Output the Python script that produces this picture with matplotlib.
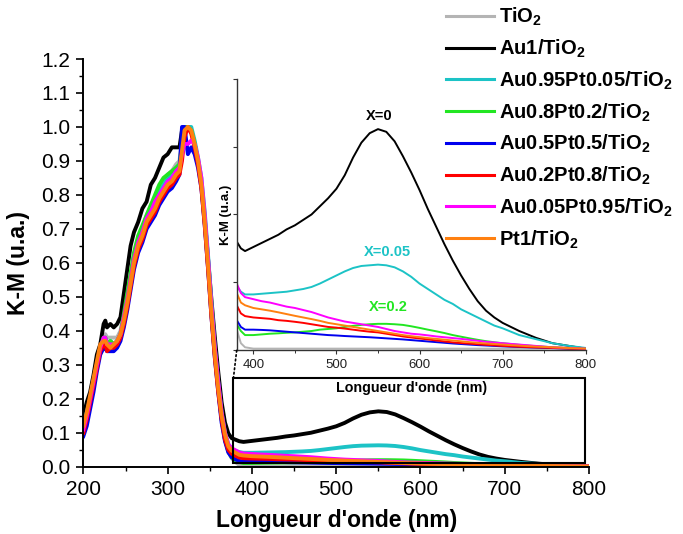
import matplotlib
matplotlib.use("Agg")
import matplotlib.pyplot as plt
from matplotlib.patches import Rectangle, ConnectionPatch
from matplotlib.ticker import MultipleLocator

plt.rcParams['font.family'] = 'Liberation Sans'
plt.rcParams['mathtext.fontset'] = 'custom'
plt.rcParams['mathtext.rm'] = 'Liberation Sans:bold'
plt.rcParams['mathtext.bf'] = 'Liberation Sans:bold'

# wavelength grids (nm): UV part and visible part
wl_uv = [200, 204, 208, 212, 216, 220, 224, 226, 228, 232, 236, 240, 244, 248, 252,
         256, 260, 265, 270, 275, 280, 285, 290, 295, 300, 305, 310, 314, 317, 320,
         324, 328, 332, 336, 340, 344, 348, 352, 356, 360, 364, 368, 372, 376]
wl_vis = [380, 385, 390, 400, 410, 420, 430, 440, 450, 460, 470, 480, 490, 500,
          510, 520, 530, 540, 550, 560, 570, 580, 590, 600, 610, 620, 630, 640, 650,
          660, 670, 680, 690, 700, 720, 740, 760, 780, 800]

tio2_uv = [.13, .17, .21, .26, .31, .35, .38, .39, .38, .38, .38, .38, .40, .45, .50,
           .56, .62, .67, .70, .74, .77, .79, .82, .84, .86, .87, .89, .90, .96, 1.0,
           1.0, .99, .95, .90, .83, .72, .59, .45, .33, .23, .14, .08, .045, .025]
tio2_vis = [.015, .005, .002, .001, .001, .001, .001, .001, .001, .001, .001, .001, .001, .001,
            .001, .001, .001, .001, .001, .001, .001, .001, .001, .001, .001, .001, .001, .001, .001,
            .001, .001, .001, .001, .001, .001, .001, .001, .001, .001]

au1_uv = [.15, .19, .22, .27, .33, .36, .42, .43, .41, .42, .41, .42, .44, .51, .58,
          .65, .69, .72, .76, .78, .83, .85, .88, .91, .92, .94, .94, .94, .99, 1.0,
          1.0, .99, .95, .90, .83, .73, .61, .49, .38, .28, .19, .13, .098, .084]
au1_vis = [.080, .075, .073, .076, .079, .082, .085, .089, .092, .096, .100, .106, .112, .119,
           .129, .142, .153, .160, .163, .161, .154, .143, .131, .118, .104, .091, .078, .066, .055,
           .045, .036, .029, .024, .020, .014, .009, .005, .003, .001]

au95_uv = [.12, .16, .20, .25, .30, .35, .37, .38, .36, .37, .36, .37, .39, .44, .49,
           .55, .61, .66, .69, .73, .76, .78, .81, .83, .85, .86, .88, .89, .93, .98,
           1.0, 1.0, .96, .91, .85, .75, .62, .48, .35, .25, .16, .10, .066, .052]
au95_vis = [.047, .043, .041, .041, .0415, .042, .0425, .043, .044, .045, .0465, .049, .052, .055,
            .058, .0605, .062, .0625, .063, .0625, .061, .058, .054, .049, .045, .041, .037, .034, .030,
            .027, .024, .021, .018, .016, .011, .008, .005, .003, .0015]

au80_uv = [.11, .15, .20, .25, .30, .35, .38, .38, .36, .37, .36, .37, .39, .45, .51,
           .57, .63, .68, .71, .74, .77, .80, .83, .85, .86, .87, .88, .89, .95, 1.0,
           1.0, .99, .95, .90, .83, .72, .59, .45, .33, .23, .14, .08, .045, .027]
au80_vis = [.019, .014, .011, .011, .0115, .012, .0123, .0127, .013, .0135, .014, .015, .0155, .016,
            .017, .0178, .0185, .019, .0193, .0193, .019, .0185, .0175, .0163, .015, .0138, .0125, .011, .0098,
            .0086, .0075, .0065, .0057, .005, .0038, .0028, .002, .0014, .001]

au50_uv = [.09, .12, .17, .22, .28, .33, .35, .35, .34, .34, .34, .35, .37, .41, .46,
           .52, .58, .63, .66, .70, .72, .74, .77, .79, .81, .82, .84, .86, 1.0, 1.0,
           .92, .94, .92, .88, .82, .71, .58, .44, .32, .22, .13, .075, .042, .028]
au50_vis = [.022, .017, .015, .015, .0148, .0145, .014, .0135, .013, .0125, .012, .0115, .011, .0107,
            .0103, .010, .0097, .0094, .009, .0086, .0082, .0078, .0073, .0068, .0063, .0058, .0053, .0048, .0044,
            .004, .0036, .0033, .003, .0027, .0022, .0018, .0014, .001, .0007]

au20_uv = [.10, .14, .19, .24, .29, .34, .36, .36, .34, .35, .35, .36, .38, .42, .47,
           .53, .59, .64, .67, .71, .73, .75, .78, .80, .82, .83, .85, .86, .90, .97,
           1.0, .98, .94, .89, .82, .71, .58, .44, .32, .22, .14, .08, .05, .038]
au20_vis = [.033, .027, .025, .024, .0235, .023, .022, .0215, .0208, .020, .019, .018, .017, .0165,
            .0158, .015, .0142, .0135, .013, .012, .011, .010, .0092, .0085, .0078, .007, .0063, .0056, .0051,
            .0047, .0042, .0038, .0034, .003, .0024, .0019, .0015, .001, .0007]

au05_uv = [.11, .15, .20, .25, .30, .35, .38, .38, .36, .36, .36, .37, .39, .44, .49,
           .55, .61, .66, .69, .73, .75, .78, .80, .82, .84, .85, .87, .88, .92, .95,
           .95, .96, .95, .91, .85, .74, .61, .47, .35, .25, .16, .10, .066, .054]
au05_vis = [.049, .042, .039, .0375, .036, .035, .0335, .032, .031, .0295, .028, .026, .024, .0225,
            .021, .020, .019, .018, .017, .0155, .014, .013, .012, .0115, .0108, .010, .0094, .0088, .0082,
            .0075, .0068, .006, .0055, .005, .004, .003, .002, .0015, .001]

pt1_uv = [.12, .16, .21, .26, .31, .36, .37, .37, .36, .35, .36, .37, .39, .43, .48,
          .54, .60, .65, .68, .72, .74, .76, .79, .81, .83, .84, .86, .87, .93, .99,
          1.0, .99, .95, .90, .83, .72, .59, .45, .33, .23, .15, .095, .06, .047]
pt1_vis = [.042, .035, .033, .031, .030, .029, .0278, .0265, .0252, .024, .0228, .0215, .020, .019,
           .018, .017, .016, .015, .014, .013, .012, .011, .0102, .0095, .0088, .0082, .0076, .007, .0064,
           .0058, .0053, .0048, .0044, .004, .0032, .0025, .002, .0014, .001]

wl = wl_uv + wl_vis
series = [tio2_uv + tio2_vis, au1_uv + au1_vis, au95_uv + au95_vis, au80_uv + au80_vis,
          au50_uv + au50_vis, au20_uv + au20_vis, au05_uv + au05_vis, pt1_uv + pt1_vis]
labels = ['TiO$_2$', 'Au1/TiO$_2$', 'Au0.95Pt0.05/TiO$_2$', 'Au0.8Pt0.2/TiO$_2$',
          'Au0.5Pt0.5/TiO$_2$', 'Au0.2Pt0.8/TiO$_2$', 'Au0.05Pt0.95/TiO$_2$', 'Pt1/TiO$_2$']
colors = ['#b4b4b4', '#000000', '#1cc3c6', '#22e622', '#0000ee', '#ff0000', '#ff00ff', '#ff8010']

fig = plt.figure(figsize=(6.83, 5.34), dpi=100)
ax = fig.add_axes([0.1221, 0.126, 0.7403, 0.7635])

for y, lab, c in zip(series, labels, colors):
    ax.plot(wl, y, color=c, lw=2.8, label=lab)

ax.set_xlim(200, 800)
ax.set_ylim(0, 1.2)
ax.xaxis.set_major_locator(MultipleLocator(100))
ax.xaxis.set_minor_locator(MultipleLocator(50))
ax.yaxis.set_major_locator(MultipleLocator(0.1))
ax.yaxis.set_minor_locator(MultipleLocator(0.05))
ax.yaxis.set_major_formatter(matplotlib.ticker.FormatStrFormatter('%.1f'))
for s in ['top', 'right']:
    ax.spines[s].set_visible(False)
for s in ['left', 'bottom']:
    ax.spines[s].set_linewidth(1.4)
ax.tick_params(which='major', direction='out', length=5, width=1.2, labelsize=15, pad=4.5)
ax.tick_params(which='minor', direction='out', length=3, width=1.0)
ax.set_xlabel("Longueur d'onde (nm)", fontsize=16.5, fontweight='bold', labelpad=7)
ax.set_ylabel("K-M (u.a.)", fontsize=16.5, fontweight='bold', labelpad=8)

# zoom box
ax.add_patch(Rectangle((378, 0.01), 417, 0.25, fill=False, ec='black', lw=1.5, zorder=5))

# inset
ins = fig.add_axes([0.3466, 0.3446, 0.511, 0.5075])
ins.set_facecolor('none')
for y, c in zip(series, colors):
    ins.plot(wl, y, color=c, lw=1.4)
ins.set_xlim(380, 800)
ins.set_ylim(0, 0.2)
ins.xaxis.set_major_locator(MultipleLocator(100))
ins.xaxis.set_minor_locator(MultipleLocator(50))
ins.yaxis.set_major_locator(MultipleLocator(0.05))
ins.set_yticklabels([])
for s in ['top', 'right']:
    ins.spines[s].set_visible(False)
for s in ['left', 'bottom']:
    ins.spines[s].set_color('#333333')
    ins.spines[s].set_linewidth(1.0)
ins.tick_params(which='major', direction='out', length=3, width=0.8, labelsize=9.5,
                colors='#333333', labelcolor='#222222')
ins.tick_params(which='minor', direction='out', length=2, width=0.7, colors='#333333')
ins.set_xlabel("Longueur d'onde (nm)", fontsize=10.3, fontweight='bold', labelpad=7)
ins.set_ylabel("K-M (u.a.)", fontsize=9.5, fontweight='bold', labelpad=-3)

ins.text(552, 0.173, 'X=0', color='black', fontsize=10.5, fontweight='bold', ha='center', va='center')
ins.text(561, 0.072, 'X=0.05', color='#1cc3c6', fontsize=10.5, fontweight='bold', ha='center', va='center')
ins.text(562, 0.032, 'X=0.2', color='#22e622', fontsize=10.5, fontweight='bold', ha='center', va='center')

con = ConnectionPatch(xyA=(378, 0.26), coordsA=ax.transData, xyB=(380, 0), coordsB=ins.transData,
                      linestyle=':', color='black', lw=1.2)
fig.add_artist(con)

leg = fig.legend(loc='upper left', bbox_to_anchor=(0.641, 1.004), frameon=False,
                 prop={'size': 14.5, 'weight': 'bold'}, handlelength=2.39, handletextpad=0.25,
                 labelspacing=0.47, borderaxespad=0)
for h in leg.get_lines():
    h.set_linewidth(2.2)

fig.savefig('out.png', dpi=100)
